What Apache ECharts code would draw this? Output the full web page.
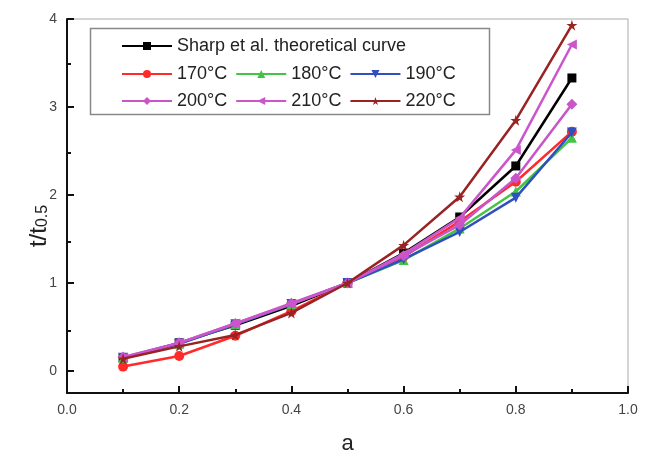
<!DOCTYPE html>
<html>
<head>
<meta charset="utf-8">
<script src="https://cdn.jsdelivr.net/npm/echarts@6/dist/echarts.min.js"></script>
<style>html,body{margin:0;padding:0;background:#fff;}#c{width:647px;height:460px;}</style>
</head>
<body>
<div id="c"></div>
<script>
var aValues = [0.1, 0.2, 0.3, 0.4, 0.5, 0.6, 0.7, 0.8, 0.9];
var sharp = [0.15, 0.32, 0.52, 0.74, 1, 1.34, 1.75, 2.33, 3.33];
var t170 = [0.05, 0.17, 0.40, 0.68, 1, 1.30, 1.70, 2.15, 2.72];
var t180 = [0.15, 0.31, 0.53, 0.76, 1, 1.26, 1.62, 2.04, 2.65];
var t190 = [0.15, 0.31, 0.53, 0.76, 1, 1.27, 1.58, 1.97, 2.71];
var t200 = [0.16, 0.32, 0.54, 0.77, 1, 1.31, 1.66, 2.19, 3.03];
var t210 = [0.15, 0.32, 0.54, 0.76, 1, 1.33, 1.74, 2.51, 3.71];
var t220 = [0.14, 0.28, 0.41, 0.66, 1, 1.43, 1.98, 2.85, 3.93];
var xTicks = [0, 0.2, 0.4, 0.6, 0.8, 1.0];
var yLabels = [0, 1, 2, 3, 4];
var yMinor = [0.5, 1.5, 2.5, 3.5];

var names = ['Sharp et al. theoretical curve', '170°C', '180°C', '190°C', '200°C', '210°C', '220°C'];
var values = [sharp, t170, t180, t190, t200, t210, t220];
var colors = ['#000000', '#ff2a2a', '#44c444', '#3050c0', '#c855c8', '#cc55cc', '#992222'];
var star = 'path://M50,0 L61,35 L98,35 L68,57 L79,91 L50,70 L21,91 L32,57 L2,35 L39,35 Z';
var symbols = ['rect', 'circle', 'triangle', 'triangle', 'diamond', 'triangle', star];
var rots = [0, 0, 0, 180, 0, 90, 0];
var sizes = [9, 10, 10, 10, 11, 10, 11];

function zip(v) { return aValues.map(function (a, i) { return [a, v[i]]; }); }

var series = names.map(function (n, i) {
  return {
    name: n, type: 'line', data: zip(values[i]),
    symbol: symbols[i], symbolRotate: rots[i], symbolSize: sizes[i],
    lineStyle: { color: colors[i], width: 2.5 },
    itemStyle: { color: colors[i] },
    z: 2 + i
  };
});

var legendText = { fontFamily: 'Liberation Sans, Arial', fontSize: 18, color: '#222' };
function leg(data, top) {
  return {
    data: data, left: 116, top: top, orient: 'horizontal',
    itemWidth: 50, itemHeight: 10, itemGap: 8,
    textStyle: legendText, selectedMode: false
  };
}

var gridPos = { left: 67, right: 19, top: 19, bottom: 63 };
var font = 'Liberation Sans, Arial';

var chart = echarts.init(document.getElementById('c'));
chart.setOption({
  animation: false,
  backgroundColor: '#fff',
  grid: [
    Object.assign({ show: true, borderColor: '#aaa', borderWidth: 1 }, gridPos),
    Object.assign({ show: false }, gridPos)
  ],
  legend: [leg([names[0]], 32), leg(names.slice(1, 4), 60), leg(names.slice(4, 7), 87)],
  graphic: [{ type: 'rect', left: 88, top: 26, shape: { width: 399, height: 86 },
    style: { fill: 'none', stroke: '#888', lineWidth: 1.5 }, z: 100 }],
  xAxis: [{
    type: 'value', min: 0, max: 1, interval: 0.2, gridIndex: 0,
    name: 'a', nameLocation: 'middle', nameGap: 40, nameMoveOverlap: false,
    nameTextStyle: { fontFamily: font, fontSize: 22, color: '#222' },
    axisLine: { onZero: false, lineStyle: { color: '#111', width: 2 } },
    axisTick: { inside: true, length: 7, lineStyle: { color: '#111', width: 2 } },
    minorTick: { show: true, splitNumber: 2, length: 4, lineStyle: { color: '#111', width: 2 } },
    splitLine: { show: false },
    axisLabel: { margin: 10, fontFamily: font, fontSize: 14, color: '#444',
      formatter: function (v) { return v.toFixed(1); } }
  }, {
    type: 'value', min: 0, max: 1, gridIndex: 1, show: false
  }],
  yAxis: [{
    type: 'value', min: -0.25, max: 4, gridIndex: 0,
    name: '{m|t/t}{s|0.5}', nameLocation: 'middle', nameGap: 16, nameRotate: 90, nameMoveOverlap: false,
    nameTextStyle: { padding: [0, 40, 0, 0], rich: {
      m: { fontFamily: font, fontSize: 24, color: '#222' },
      s: { fontFamily: font, fontSize: 16, color: '#222', verticalAlign: 'bottom', padding: [8, 0, 0, 0] } } },
    axisLine: { onZero: false, lineStyle: { color: '#111', width: 2 } },
    axisTick: { inside: true, length: 7, customValues: yLabels, lineStyle: { color: '#111', width: 2 } },
    splitLine: { show: false },
    axisLabel: { margin: 10, customValues: yLabels, fontFamily: font, fontSize: 14, color: '#444' }
  }, {
    type: 'value', min: -0.25, max: 4, gridIndex: 1, position: 'left',
    axisLine: { show: false },
    axisTick: { inside: true, length: 4, customValues: yMinor, lineStyle: { color: '#111', width: 2 } },
    splitLine: { show: false },
    axisLabel: { show: false }
  }],
  series: series
});
</script>
</body>
</html>
